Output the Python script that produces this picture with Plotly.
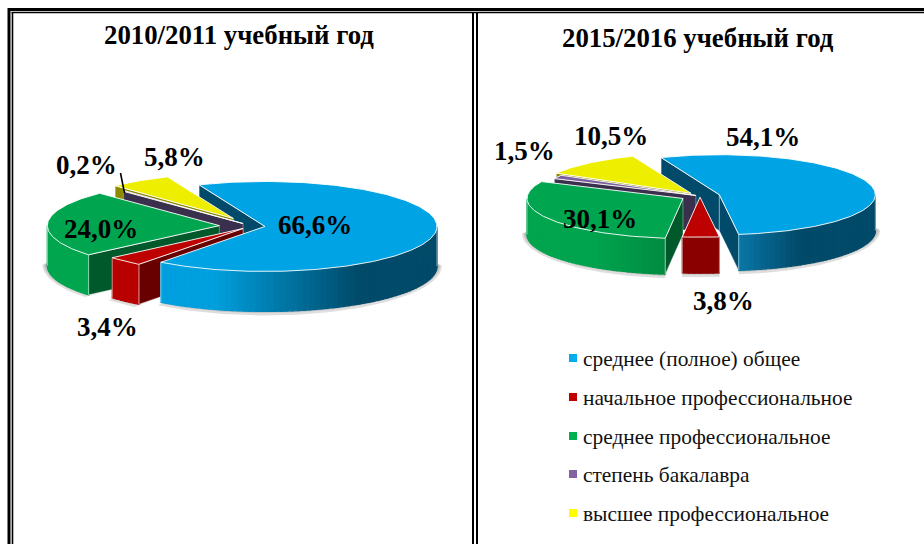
import numpy as np
import plotly.graph_objects as go

# ---- data ----
categories = ["среднее (полное) общее", "начальное профессиональное",
              "среднее профессиональное", "степень бакалавра",
              "высшее профессиональное"]
titles = ["2010/2011 учебный год", "2015/2016 учебный год"]
values_2010 = [66.6, 3.4, 24.0, 0.2, 5.8]
values_2015 = [54.1, 3.8, 30.1, 1.5, 10.5]

# ---- styling / geometry ----
SERIF = "Liberation Serif"
TOP = ["#00a3e3", "#bd0000", "#00a64f", "#7c5fa0", "#eeee00"]
FACE = ["#024a69", "#690000", "#00592b", "#3a2f4d", "#8b8a00"]
KEY = ["#00aeef", "#c00000", "#00b050", "#8064a2", "#ffff00"]

charts = [
    dict(values=values_2010, cx=252, cy=226, rx=172, ry=45, depth=40, start=337.5,
         explode=[.076, .076, .19, .075, .2],
         wall=[[(0, "#00a0e0"), (.2, "#009fdd"), (.72, "#024a69"), (1, "#024a69")],
               [(0, "#b80000"), (1, "#b80000")],
               [(0, "#00a64f"), (1, "#00a64f")], None, None],
         labels=[(315, 225), (107, 327), (101, 229), (86, 165), (174, 157)],
         title=(239, 35)),
    dict(values=values_2015, cx=700, cy=196, rx=156, ry=40, depth=36, start=338.1,
         explode=[.128, .03, .125, .03, .088],
         wall=[[(0, "#0a78a8"), (.45, "#024a69"), (1, "#024a69")],
               [(0, "#8a0000"), (1, "#8a0000")],
               [(0, "#00a64f"), (.5, "#00a44e"), (1, "#008c42")], None, None],
         labels=[(763, 137), (723, 301), (600, 219), (524, 151), (611, 136)],
         title=(698, 38)),
]


def hex_rgb(c):
    return np.array([int(c[i:i + 2], 16) for i in (1, 3, 5)], float)


def grad(stops, t):
    for (a, ca), (b, cb) in zip(stops, stops[1:]):
        if t <= b:
            m = (t - a) / (b - a) if b > a else 0
            v = hex_rgb(ca) * (1 - m) + hex_rgb(cb) * m
            return "rgb(%d,%d,%d)" % tuple(v)
    return stops[-1][1]


fig = go.Figure()


def poly(xs, ys, fill, line=None, width=0.0):
    fig.add_trace(go.Scatter(x=list(xs) + [xs[0]], y=list(ys) + [ys[0]], mode="lines",
                             fill="toself", fillcolor=fill, hoverinfo="skip",
                             line=dict(color=line or fill, width=width),
                             showlegend=False))


def front_ranges(a, b):
    for lo, hi in ((90, 270), (450, 630)):
        s, e = max(a, lo), min(b, hi)
        if e > s:
            yield s, e


def draw_shadow(c, geo, i):
    ax, ay, a, b = geo[i]
    if c["wall"][i] is None:
        return
    for s, e in front_ranges(a, b):
        th = np.radians(np.linspace(s, e, 60))
        for g in (5, 3.5, 2):
            xs = ax + (c["rx"] + g) * np.sin(th)
            ys = ay + c["depth"] - 4 - (c["ry"] + g) * np.cos(th) + g * .6
            poly([ax] + list(xs), [ay + c["depth"] - 4] + list(ys), "rgba(90,90,90,.2)")


def draw_face(c, geo, i, kind):
    ax, ay, a, b = geo[i]
    d, rx, ry = c["depth"], c["rx"], c["ry"]
    ang = a if kind == "start" else b
    s = np.sin(np.radians(ang))
    if (kind == "start" and s < 0) or (kind == "end" and s > 0):
        ex = ax + rx * s
        ey = ay - ry * np.cos(np.radians(ang))
        poly([ax, ex, ex, ax], [ay, ey, ey + d, ay + d], FACE[i], "rgba(255,255,255,.6)", .6)


def draw_wall(c, geo, i):
    ax, ay, a, b = geo[i]
    d, rx, ry = c["depth"], c["rx"], c["ry"]
    stops = c["wall"][i]
    if stops is None:
        return
    for s, e in front_ranges(a, b):
        n = max(3, int((e - s) / 2))
        th = np.radians(np.linspace(e, s, n + 1))  # left to right on screen
        xs = ax + rx * np.sin(th)
        ys = ay - ry * np.cos(th)
        x0, x1 = xs.min(), xs.max()
        for k in range(n):
            col = grad(stops, ((xs[k] + xs[k + 1]) / 2 - x0) / (x1 - x0))
            poly([xs[k], xs[k + 1], xs[k + 1], xs[k]],
                 [ys[k], ys[k + 1], ys[k + 1] + d, ys[k] + d], col, col, 1.2)
        for k in (0, n):
            fig.add_trace(go.Scatter(x=[xs[k], xs[k]], y=[ys[k], ys[k] + d], mode="lines",
                                     line=dict(color="rgba(255,255,255,.75)", width=.7),
                                     hoverinfo="skip", showlegend=False))


def draw_top(c, geo, i):
    ax, ay, a, b = geo[i]
    th = np.radians(np.linspace(a, b, max(3, int(b - a) + 2)))
    xs = np.r_[ax, ax + c["rx"] * np.sin(th)]
    ys = np.r_[ay, ay - c["ry"] * np.cos(th)]
    poly(list(xs), list(ys), TOP[i], "rgba(255,255,255,.9)", 1)


for c in charts:
    # slice geometry follows the values
    geo = []
    ang = c["start"]
    for v, k in zip(c["values"], c["explode"]):
        sw = v * 3.6
        mid = np.radians(ang + sw / 2)
        geo.append((c["cx"] + k * c["rx"] * np.sin(mid),
                    c["cy"] - k * c["ry"] * np.cos(mid), ang, ang + sw))
        ang += sw
    for i in range(5):
        draw_shadow(c, geo, i)
    draw_face(c, geo, 0, "start")
    for i in (4, 3, 2, 1):
        draw_face(c, geo, i, "start")
        draw_face(c, geo, i, "end")
        draw_wall(c, geo, i)
        draw_top(c, geo, i)
    draw_face(c, geo, 0, "end")
    draw_wall(c, geo, 0)
    draw_top(c, geo, 0)

# leader line of the 0,2% label
fig.add_trace(go.Scatter(x=[120.5, 124.5], y=[173, 193], mode="lines",
                         line=dict(color="black", width=1.6), hoverinfo="skip", showlegend=False))

annotations = []
for c, title in zip(charts, titles):
    annotations.append(dict(x=c["title"][0], y=c["title"][1], text="<b>%s</b>" % title,
                            showarrow=False, font=dict(family=SERIF, size=26.8, color="black")))
    for v, (lx, ly) in zip(c["values"], c["labels"]):
        annotations.append(dict(x=lx, y=ly, text="<b>%s%%</b>" % f"{v:.1f}".replace(".", ","),
                                showarrow=False, font=dict(family=SERIF, size=27, color="black")))

# key at the lower right
key_y = [358, 397, 436, 474, 513]
for name, col, ky in zip(categories, KEY, key_y):
    fig.add_trace(go.Scatter(x=[573], y=[ky], mode="markers", name=name, showlegend=False,
                             marker=dict(symbol="square", size=8, color=col), hoverinfo="name"))
    annotations.append(dict(x=581, y=ky + 0.5, text=name, xanchor="left", showarrow=False,
                            font=dict(family=SERIF, size=21.4, color="#111111")))

shapes = []
for (x0, y0, x1, y1, w) in [(8, 9.5, 924, 9.5, 3), (11.5, 12.5, 924, 12.5, 1.6),
                            (9, 8, 9, 544, 3), (12.5, 12, 12.5, 544, 1.6),
                            (473, 12, 473, 544, 2), (477, 12, 477, 544, 2)]:
    shapes.append(dict(type="line", x0=x0, y0=y0, x1=x1, y1=y1, xref="x", yref="y",
                       line=dict(color="black", width=w)))

fig.update_layout(width=924, height=544, margin=dict(l=0, r=0, t=0, b=0),
                  paper_bgcolor="white", plot_bgcolor="white", showlegend=False,
                  xaxis=dict(range=[0, 924], visible=False, fixedrange=True),
                  yaxis=dict(range=[544, 0], visible=False, fixedrange=True),
                  annotations=annotations, shapes=shapes)
fig.write_html("out.html", config=dict(displayModeBar=False),
               post_script="document.body.style.margin='0';document.documentElement.style.overflow='hidden';")
